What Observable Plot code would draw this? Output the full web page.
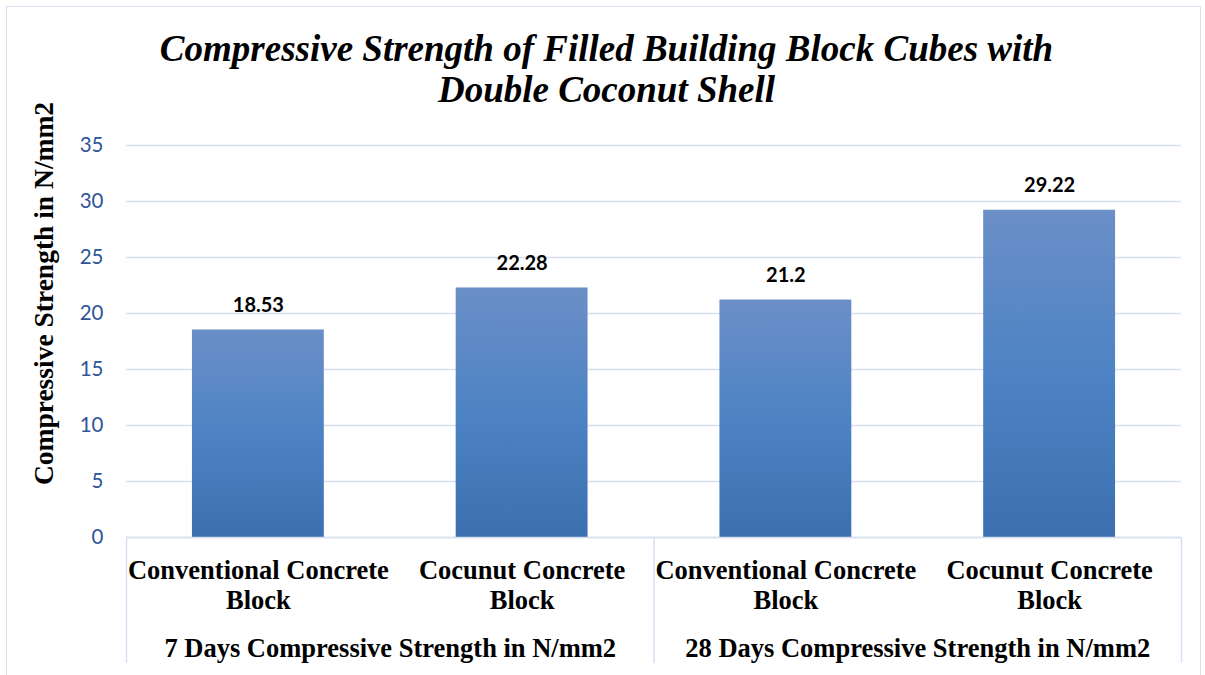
<!DOCTYPE html>
<html><head><meta charset="utf-8">
<script src="https://cdn.jsdelivr.net/npm/d3@7"></script>
<script src="https://cdn.jsdelivr.net/npm/@observablehq/plot@0.6"></script>
<style>
body{margin:0;background:#fff;width:1205px;height:675px;overflow:hidden;position:relative}
#border{position:absolute;left:6px;top:6px;width:1195px;height:720px;border:1.5px solid #D5DFEF;box-sizing:border-box}
#title{position:absolute;left:0;top:0;width:1205px;padding-left:8px;box-sizing:border-box;text-align:center;font-family:"Liberation Serif","Times New Roman",serif;font-weight:bold;font-style:italic;font-size:37px;line-height:41px;padding-top:28px;color:#000}
#chart{position:absolute;left:0;top:120px}
#chart svg{overflow:visible}
</style></head><body>
<div id="border"></div>
<div id="title">Compressive Strength of Filled Building Block Cubes with<br>Double Coconut Shell</div>
<div id="chart"></div>
<script>
const groups = ["7 Days Compressive Strength in N/mm2", "28 Days Compressive Strength in N/mm2"];
const blocks = ["Conventional Concrete\nBlock", "Cocunut Concrete\nBlock"];
const values = [18.53, 22.28, 21.2, 29.22];
const valueLabels = ["18.53", "22.28", "21.2", "29.22"];
const yTicks = [0, 5, 10, 15, 20, 25, 30, 35];
const yLabel = "Compressive Strength in N/mm2";

const rows = [];
groups.forEach((g, gi) => blocks.forEach((b, bi) => {
  const slot = gi * blocks.length + bi;
  rows.push({group: g, block: b, slot, value: values[slot], label: valueLabels[slot]});
}));
const groupRows = groups.map((g, gi) => ({group: g, start: gi * blocks.length, end: (gi + 1) * blocks.length}));
const boundaries = [0, ...groupRows.map(d => d.end)];

const serif = '"Liberation Serif", "Times New Roman", serif';
const sans = 'Lato, "Open Sans", sans-serif';
const lineCol = "#D6E0F0";

const chart = Plot.plot({
  width: 1205, height: 555,
  marginLeft: 126, marginRight: 24, marginTop: 25, marginBottom: 138,
  style: {overflow: "visible"},
  x: {domain: [0, rows.length], axis: null},
  y: {domain: [0, 35]},
  marks: [
    Plot.gridY(yTicks, {stroke: lineCol, strokeOpacity: 1, strokeWidth: 1.5}),
    Plot.axisY(yTicks, {tickSize: 0, tickPadding: 23, fill: "#2F5597", fontSize: 20.5, fontFamily: sans, label: null}),
    Plot.rectY(rows, {x1: d => d.slot + 0.25, x2: d => d.slot + 0.75, y: "value", fill: "url(#barGrad)"}),
    Plot.ruleY([0], {stroke: lineCol, strokeWidth: 1.5}),
    Plot.ruleX(boundaries, {x: d => d, y1: 0, y2: 0, insetBottom: -126, stroke: lineCol, strokeWidth: 1.5}),
    Plot.text(rows, {x: d => d.slot + 0.5, y: "value", text: "label", lineAnchor: "bottom", dy: -18, fontFamily: sans, fontWeight: "bold", fontSize: 20, fill: "#000"}),
    Plot.text(rows, {x: d => d.slot + 0.5, y: 0, text: "block", lineAnchor: "top", dy: 20, lineHeight: 1.13, fontFamily: serif, fontWeight: "bold", fontSize: 26.5, fill: "#000"}),
    Plot.text(groupRows, {x: d => (d.start + d.end) / 2, y: 0, text: "group", lineAnchor: "top", dy: 101, fontFamily: serif, fontWeight: "bold", fontSize: 26.5, fill: "#000"}),
    Plot.text([yLabel], {frameAnchor: "left", textAnchor: "middle", dx: -82, dy: -48, rotate: -90, fontFamily: serif, fontWeight: "bold", fontSize: 27.5, fill: "#000"})
  ]
});

const svg = d3.select(chart);
const grad = svg.insert("defs", ":first-child").append("linearGradient")
  .attr("id", "barGrad").attr("x1", 0).attr("y1", 0).attr("x2", 0).attr("y2", 1);
grad.append("stop").attr("offset", "0%").attr("stop-color", "#6B8FC7");
grad.append("stop").attr("offset", "50%").attr("stop-color", "#4D83C4");
grad.append("stop").attr("offset", "100%").attr("stop-color", "#3B6FB0");

document.getElementById("chart").appendChild(chart);
</script>
</body></html>
